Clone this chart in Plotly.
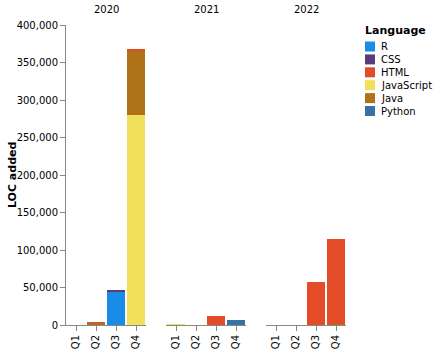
import plotly.graph_objects as go

years = ["2020", "2021", "2022"]
quarters = ["Q1", "Q2", "Q3", "Q4"]

# values per language, per year (list of 4 quarters)
R = {"2020": [0, 0, 44000, 0], "2021": [0, 0, 0, 0], "2022": [0, 0, 0, 0]}
Python = {"2020": [0, 0, 0, 0], "2021": [0, 0, 0, 7000], "2022": [0, 0, 0, 0]}
JavaScript = {"2020": [0, 0, 0, 280000], "2021": [700, 0, 0, 0], "2022": [0, 0, 0, 0]}
Java = {"2020": [0, 2800, 0, 86500], "2021": [0, 0, 0, 0], "2022": [0, 0, 0, 1000]}
HTML = {"2020": [0, 300, 500, 1500], "2021": [0, 0, 12500, 0], "2022": [0, 0, 57500, 113500]}
CSS = {"2020": [0, 0, 2000, 0], "2021": [0, 0, 0, 0], "2022": [0, 0, 0, 0]}

# stacking order (bottom to top) and legend order
stack_order = [("R", R), ("Python", Python), ("JavaScript", JavaScript),
               ("Java", Java), ("HTML", HTML), ("CSS", CSS)]
legend_order = ["R", "CSS", "HTML", "JavaScript", "Java", "Python"]
colors = {"R": "#198CE7", "CSS": "#563d7c", "HTML": "#e34c26",
          "JavaScript": "#f1e05a", "Java": "#b07219", "Python": "#3572A5"}

W, H = 434, 351
font = "DejaVu Sans, Liberation Sans, sans-serif"
fig = go.Figure()

x_px = [(66, 146), (166, 246), (266, 346)]
y_dom = [(351 - 325) / H, (351 - 25) / H]

for i, yr in enumerate(years):
    xa = "x" if i == 0 else f"x{i+1}"
    ya = "y" if i == 0 else f"y{i+1}"
    for name, d in stack_order:
        fig.add_trace(go.Bar(
            x=quarters, y=d[yr], name=name, marker_color=colors[name],
            marker_line_width=0, width=0.9,
            xaxis=xa, yaxis=ya, showlegend=False,
        ))
    axkey = "xaxis" if i == 0 else f"xaxis{i+1}"
    aykey = "yaxis" if i == 0 else f"yaxis{i+1}"
    fig.layout[axkey] = dict(
        domain=[x_px[i][0] / W, x_px[i][1] / W], anchor=ya,
        type="category", categoryorder="array", categoryarray=quarters,
        range=[-0.5, 3.5], showline=True, linecolor="#888", linewidth=1,
        ticks="outside", ticklen=5, tickcolor="#888", tickangle=-90,
        tickfont=dict(size=10, family=font, color="#000"), showgrid=False,
        zeroline=False, fixedrange=True, automargin=False,
    )
    fig.layout[aykey] = dict(
        domain=list(y_dom), anchor=xa, range=[0, 400000],
        showgrid=False, zeroline=False,
        showline=(i == 0), linecolor="#888", linewidth=1,
        ticks="outside" if i == 0 else "", ticklen=5, tickcolor="#888",
        showticklabels=(i == 0), tickformat=",", dtick=50000,
        tickfont=dict(size=10, family=font, color="#000"), automargin=False,
    )
    fig.add_annotation(
        text=yr, x=(x_px[i][0] + x_px[i][1]) / 2 / W, y=1 - 9 / H,
        xref="paper", yref="paper", showarrow=False,
        font=dict(size=10, family=font, color="#000"),
        xanchor="center", yanchor="middle",
    )

fig.add_annotation(
    text="<b>LOC added</b>", x=12 / W, y=1 - 175 / H, xref="paper", yref="paper",
    showarrow=False, textangle=-90, font=dict(size=11, family=font, color="#000"),
    xanchor="center", yanchor="middle",
)

# manual legend
fig.add_annotation(
    text="<b>Language</b>", x=363 / W, y=1 - 31 / H, xref="paper", yref="paper",
    showarrow=False, font=dict(size=11, family=font, color="#000"),
    xanchor="left", yanchor="middle",
)
for k, name in enumerate(legend_order):
    yc = 46.5 + k * 12.9
    fig.add_shape(type="rect", xref="paper", yref="paper",
                  x0=365 / W, x1=375 / W, y0=1 - (yc - 5) / H, y1=1 - (yc + 5) / H,
                  fillcolor=colors[name], line_width=0)
    fig.add_annotation(
        text=name, x=379 / W, y=1 - yc / H, xref="paper", yref="paper",
        showarrow=False, font=dict(size=10, family=font, color="#000"),
        xanchor="left", yanchor="middle",
    )

fig.update_layout(
    width=W, height=H, autosize=False, barmode="stack",
    margin=dict(l=0, r=0, t=0, b=0),
    paper_bgcolor="white", plot_bgcolor="white",
    showlegend=False,
    bargap=0.1,
)

fig.write_html("out.html")
